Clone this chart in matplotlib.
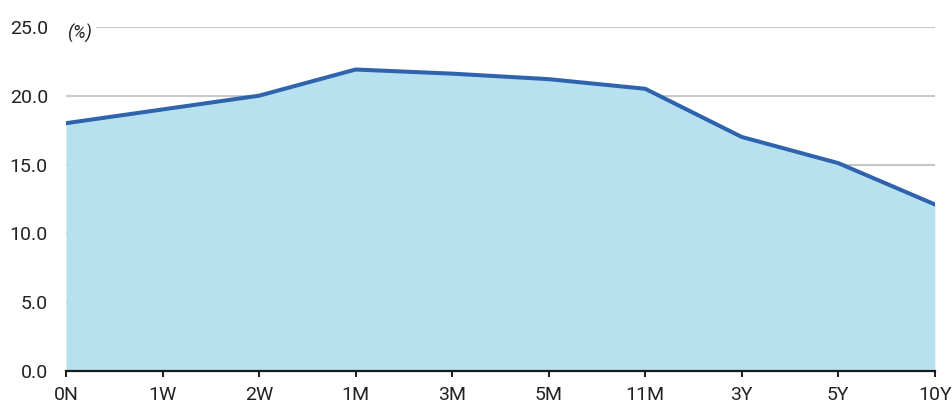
import matplotlib
matplotlib.use("Agg")
import matplotlib.pyplot as plt

plt.rcParams['font.family'] = ['Roboto', 'DejaVu Sans']

tenors = ["0N", "1W", "2W", "1M", "3M", "5M", "11M", "3Y", "5Y", "10Y"]
rates = [18.0, 19.0, 20.0, 21.9, 21.6, 21.2, 20.5, 17.0, 15.1, 12.1]
y_ticks = [0.0, 5.0, 10.0, 15.0, 20.0, 25.0]

fig = plt.figure(figsize=(9.52, 4.03), dpi=100)
ax = fig.add_axes([0.0693, 0.0794, 0.9127, 0.854])

x = list(range(len(tenors)))
for yv in y_ticks[1:]:
    ax.axhline(yv, color="#c8c8c8", lw=1.5, zorder=0)

ax.fill_between(x, rates, 0, color="#b7e1ee", lw=0, zorder=1)
ax.plot(x, rates, color="#2f63ad", lw=2.9, solid_joinstyle="miter", zorder=2)

ax.set_xlim(0, len(tenors) - 1)
ax.set_ylim(0, 25)
ax.set_xticks(x)
ax.set_xticklabels(tenors)
ax.set_yticks(y_ticks)
ax.set_yticklabels([f"{v:.1f}" for v in y_ticks])

for s in ["top", "right", "left"]:
    ax.spines[s].set_visible(False)
ax.spines["bottom"].set_linewidth(1.6)
ax.spines["bottom"].set_color("#1a1a1a")
ax.spines["bottom"].set_zorder(3)

ax.tick_params(axis="x", length=4, width=1.4, color="#1a1a1a", labelsize=14,
               labelcolor="#222222", pad=6.5)
ax.tick_params(axis="y", length=0, labelsize=14, labelcolor="#222222", pad=13)

ax.text(0.012, 24.55, "(%)", style="italic", fontsize=13, color="#222222",
        ha="left", va="center", zorder=4,
        bbox=dict(facecolor="white", edgecolor="none", pad=3))

fig.savefig("out.png", dpi=100)
